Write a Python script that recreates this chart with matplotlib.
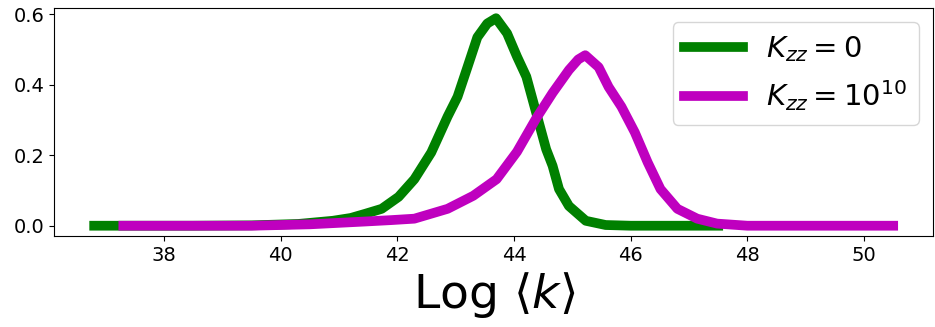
import numpy as np
import matplotlib
matplotlib.use("Agg")
from matplotlib import pyplot as plt

# values
logk_k0 = [36.8, 37.5, 38.5, 39.5, 40.3, 40.89, 41.2, 41.45, 41.73, 42.02, 42.29, 42.58,
           42.86, 43.03, 43.2, 43.37, 43.54, 43.69, 43.88, 44.05, 44.21, 44.38, 44.55,
           44.66, 44.77, 44.94, 45.23, 45.57, 46.0, 46.5, 47.0, 47.5]
dens_k0 = [0.0, 0.0, 0.0, 0.001, 0.005, 0.014, 0.022, 0.034, 0.048, 0.082, 0.132, 0.208,
           0.31, 0.366, 0.45, 0.535, 0.574, 0.589, 0.546, 0.48, 0.423, 0.32, 0.217,
           0.17, 0.104, 0.056, 0.014, 0.002, 0.0, 0.0, 0.0, 0.0]

logk_k10 = [37.3, 38.5, 39.5, 40.5, 41.45, 41.9, 42.29, 42.86, 43.3, 43.7, 44.05, 44.38,
            44.66, 44.94, 45.1, 45.22, 45.45, 45.62, 45.84, 46.07, 46.29, 46.51, 46.8,
            47.14, 47.48, 48.0, 49.0, 50.5]
dens_k10 = [0.0, 0.0, 0.0, 0.004, 0.012, 0.016, 0.02, 0.048, 0.085, 0.132, 0.21, 0.305,
            0.377, 0.442, 0.472, 0.484, 0.45, 0.394, 0.338, 0.265, 0.18, 0.104, 0.048,
            0.02, 0.006, 0.0, 0.0, 0.0]

fig = plt.figure(figsize=(9.35, 3.27), dpi=100)
ax = fig.add_axes([0.058, 0.278, 0.94, 0.698])

ax.plot(logk_k0, dens_k0, color='green', lw=7, label=r'$K_{zz}=0$')
ax.plot(logk_k10, dens_k10, color='m', lw=7, label=r'$K_{zz}=10^{10}$')

ax.set_xticks(np.arange(38, 51, 2))
ax.set_yticks([0.0, 0.2, 0.4, 0.6])
ax.tick_params(labelsize=14)
ax.set_xlabel(r'Log $\langle k \rangle$', fontsize=34)
ax.legend(fontsize=21, loc='upper right')

fig.savefig('out.png', dpi=100)
